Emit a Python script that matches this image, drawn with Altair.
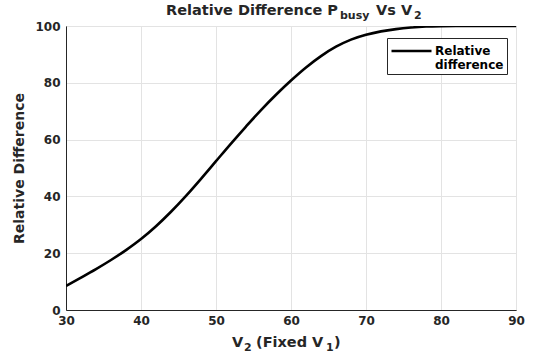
import altair as alt
import pandas as pd

# ---- data ----
v2 = [30, 32, 34, 36, 38, 40, 42, 44, 46, 48, 50, 52, 54, 56, 58, 60,
      62, 64, 66, 68, 70, 72, 74, 76, 78, 80, 82, 84, 86, 88, 90]
rel_diff = [8.5, 11.4, 14.4, 17.6, 21.1, 25.0, 29.5, 34.6, 40.2, 46.2, 52.4,
            58.6, 64.6, 70.4, 75.8, 80.8, 85.4, 89.4, 92.7, 95.2, 96.9,
            98.1, 98.9, 99.45, 99.8, 99.95, 100, 100, 100, 100, 100]
series_name = ["Relative difference"]
x_ticks = [30, 40, 50, 60, 70, 80, 90]
y_ticks = [0, 20, 40, 60, 80, 100]

title_main = ["Relative Difference P"]
title_sub1 = ["busy"]
title_mid = ["Vs V"]
title_sub2 = ["2"]
xt_v = ["V"]
xt_sub2 = ["2"]
xt_mid = ["(Fixed V"]
xt_sub1 = ["1"]
xt_end = [")"]
y_title = "Relative Difference"

FONT = "DejaVu Sans"
AX = "#262626"

df = pd.DataFrame({"v2": v2, "diff": rel_diff, "series": series_name * len(v2)})

line = alt.Chart(df).mark_line(strokeWidth=2.6, clip=True,
                               interpolate="monotone").encode(
    x=alt.X("v2:Q", scale=alt.Scale(domain=[30, 90], nice=False),
            axis=alt.Axis(values=x_ticks, title=None, format="d")),
    y=alt.Y("diff:Q", scale=alt.Scale(domain=[0, 100], nice=False),
            axis=alt.Axis(values=y_ticks, title=y_title, format="d")),
    color=alt.Color("series:N",
                    scale=alt.Scale(domain=series_name, range=["black"]),
                    legend=alt.Legend(
                        title=None, orient="none", legendX=321, legendY=12,
                        symbolType="stroke", symbolSize=1600,
                        symbolStrokeWidth=2.6, clipHeight=20,
                        labelExpr="['Relative', 'difference']",
                        labelFont=FONT, labelFontWeight="bold",
                        labelFontSize=12, labelColor="black",
                        strokeColor=AX, fillColor="white", padding=3,
                        labelOffset=2, labelBaseline="middle")),
)

def seg(txt, x, y, size, align):
    return alt.Chart(pd.DataFrame({"t": txt})).mark_text(
        font=FONT, fontWeight="bold", fontSize=size, align=align,
        baseline="alphabetic", color=AX
    ).encode(text="t:N", x=alt.value(x), y=alt.value(y))

text_layers = [
    seg(title_main, 272, -11, 14.5, "right"),
    seg(title_sub1, 274, -7, 11, "left"),
    seg(title_mid, 310, -11, 14.5, "left"),
    seg(title_sub2, 348, -7, 11, "left"),
    seg(xt_v, 166, 321, 14.5, "left"),
    seg(xt_sub2, 178, 325, 11, "left"),
    seg(xt_mid, 190, 321, 14.5, "left"),
    seg(xt_sub1, 260, 325, 11, "left"),
    seg(xt_end, 268, 321, 14.5, "left"),
]

chart = alt.layer(line, *text_layers).properties(
    width=450, height=284,
    padding={"left": 66, "top": 26, "right": 24, "bottom": 49},
    autosize=alt.AutoSizeParams(type="none"),
).configure_view(
    stroke=AX, strokeWidth=1
).configure_axis(
    labelFont=FONT, labelFontWeight="bold", labelFontSize=12, labelColor=AX,
    titleFont=FONT, titleFontWeight="bold", titleFontSize=14, titleColor=AX,
    domainColor=AX, domainWidth=1, ticks=False, labelFlush=False,
    grid=True, gridColor="#e3e3e3", gridWidth=1,
).configure_axisX(
    labelPadding=5,
).configure_axisY(
    labelPadding=6, titlePadding=8,
)

chart.save("out.html", embed_options={"renderer": "svg", "actions": False})
